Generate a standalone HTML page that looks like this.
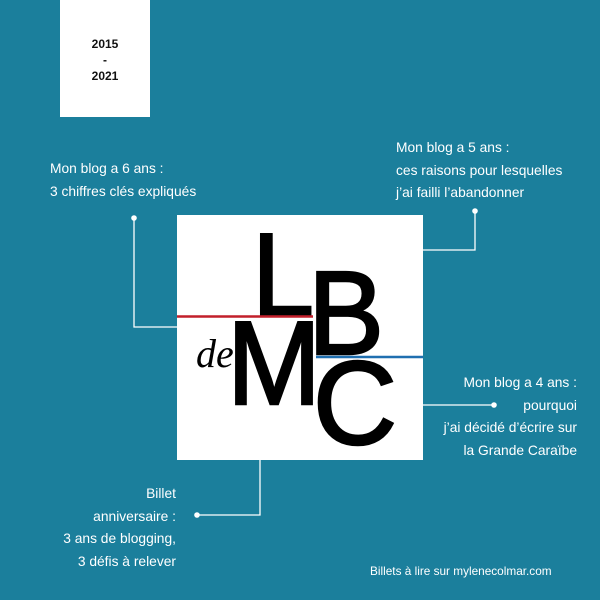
<!DOCTYPE html>
<html><head><meta charset="utf-8"><style>
html,body{margin:0;padding:0}
body{width:600px;height:600px;background:#1b7f9c;position:relative;overflow:hidden;font-family:"Liberation Sans",sans-serif;color:#fff}
.t{position:absolute;font-size:13.8px;line-height:22.5px;white-space:nowrap}
.r{text-align:right}
</style></head><body>
<div style="position:absolute;left:60px;top:0;width:90px;height:117px;background:#fff;color:#111;font-weight:bold;font-size:12px;line-height:16px;text-align:center;padding-top:36px;box-sizing:border-box">2015<br>-<br>2021</div>

<div class="t" style="left:50px;top:158px">Mon blog a 6 ans :<br>3 chiffres clés expliqués</div>
<div class="t" style="left:396px;top:137px">Mon blog a 5 ans :<br>ces raisons pour lesquelles<br>j’ai failli l’abandonner</div>
<div class="t r" style="right:23px;top:372px">Mon blog a 4 ans :<br>pourquoi<br>j’ai décidé d’écrire sur<br>la Grande Caraïbe</div>
<div class="t r" style="right:424px;top:483px">Billet<br>anniversaire :<br>3 ans de blogging,<br>3 défis à relever</div>
<div class="t" style="left:370px;top:560px;font-size:11.8px">Billets à lire sur mylenecolmar.com</div>

<svg width="600" height="600" style="position:absolute;left:0;top:0">
<g stroke="#fff" stroke-width="1.3" fill="none">
<polyline points="134,218 134,327 177,327"/>
<polyline points="475,211 475,250 423,250"/>
<polyline points="423,405 494,405"/>
<polyline points="260,460 260,515 197,515"/>
</g>
<g fill="#fff">
<circle cx="134" cy="218" r="2.8"/><circle cx="475" cy="211" r="2.8"/>
<circle cx="494" cy="405" r="2.8"/><circle cx="197" cy="515" r="2.8"/>
</g>
<rect x="177" y="215" width="246" height="245" fill="#fff"/>
<g font-family="Liberation Sans, sans-serif" fill="#000" stroke="#000" stroke-width="2.5" font-size="119">
<text x="252" y="316" textLength="62" lengthAdjust="spacingAndGlyphs">L</text>
<text x="308" y="354" textLength="76" lengthAdjust="spacingAndGlyphs">B</text>
<text x="227" y="404" textLength="94" lengthAdjust="spacingAndGlyphs">M</text>
<text x="313" y="444" textLength="84" lengthAdjust="spacingAndGlyphs">C</text>
</g>
<text x="196" y="367" font-size="40" font-style="italic" font-family="Liberation Serif, serif" fill="#000">de</text>
<line x1="177" y1="316.5" x2="313" y2="316.5" stroke="#c21f2a" stroke-width="2.5"/>
<line x1="316" y1="357" x2="423" y2="357" stroke="#1f6fb0" stroke-width="2.5"/>
</svg>
</body></html>
